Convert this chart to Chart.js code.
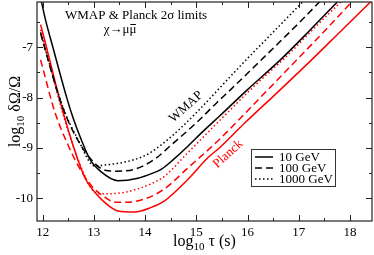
<!DOCTYPE html>
<html>
<head>
<meta charset="utf-8">
<script src="https://cdn.jsdelivr.net/npm/chart.js@4.4.1/dist/chart.umd.min.js"></script>
<style>
  html, body { margin: 0; padding: 0; background: #fff; }
  #chart { display: block; }
</style>
</head>
<body>
<canvas id="chart" width="374" height="255"></canvas>
<script>
'use strict';

/* Data: log10 tau (s) vs log10 dOmega/Omega */

var wmap10Tau = [11.96, 12.06, 12.2, 12.47, 12.6, 12.76, 12.92, 13.15, 13.47, 13.86, 14.15, 14.32, 14.55, 14.81, 15.1, 15.46, 16.0, 16.63, 17.2, 17.8];
var wmap10Val = [-6.02, -6.47, -7.0, -8.0, -8.42, -8.85, -9.22, -9.48, -9.65, -9.6, -9.5, -9.42, -9.23, -8.99, -8.7, -8.36, -7.84, -7.26, -6.68, -6.05];

var wmap100Tau = [11.96, 12.0, 12.39, 12.69, 13.02, 13.21, 13.41, 13.8, 14.19, 14.5, 15.0, 15.4, 15.65, 16.4, 17.0, 17.45];
var wmap100Val = [-6.72, -6.87, -8.19, -8.85, -9.31, -9.44, -9.46, -9.42, -9.22, -8.95, -8.5, -8.1, -7.86, -7.12, -6.52, -6.05];

var wmap1000Tau = [11.96, 12.0, 12.39, 12.7, 13.02, 13.2, 13.6, 14.0, 14.3, 14.7, 15.0, 15.5, 16.0, 16.5, 17.12];
var wmap1000Val = [-6.7, -6.85, -8.17, -8.85, -9.36, -9.34, -9.28, -9.15, -8.95, -8.6, -8.3, -7.76, -7.22, -6.7, -6.05];

var planck10Tau = [11.96, 12.0, 12.43, 12.82, 13.02, 13.21, 13.47, 13.8, 14.12, 14.38, 14.81, 15.23, 15.46, 15.94, 16.6, 17.24, 17.8, 18.45];
var planck10Val = [-6.55, -6.7, -8.4, -9.58, -9.88, -10.08, -10.25, -10.27, -10.18, -10.05, -9.65, -9.19, -8.99, -8.51, -7.88, -7.26, -6.7, -6.05];

var planck100Tau = [11.96, 12.0, 12.23, 12.5, 12.75, 12.99, 13.25, 13.41, 13.6, 14.0, 14.38, 14.81, 15.46, 16.2, 16.95, 17.5, 18.08];
var planck100Val = [-7.25, -7.4, -8.26, -8.95, -9.45, -9.79, -10.0, -10.08, -10.08, -10.01, -9.81, -9.42, -8.82, -8.05, -7.26, -6.68, -6.05];

var planck1000Tau = [11.96, 12.0, 12.42, 12.8, 13.02, 13.2, 13.6, 14.12, 14.38, 14.81, 15.46, 16.1, 16.8, 17.3, 17.84];
var planck1000Val = [-6.65, -6.8, -8.4, -9.5, -9.88, -9.91, -9.88, -9.71, -9.56, -9.12, -8.45, -7.8, -7.14, -6.62, -6.08];

var massLabels = ['10 GeV', '100 GeV', '1000 GeV'];
var xTickValues = [12, 13, 14, 15, 16, 17, 18];
var yTickValues = [-10, -9, -8, -7];

var SERIF = '"Liberation Serif", "DejaVu Serif", serif';
var DASHES = [[], [7, 4], [1.5, 2.5]];

function toPoints(xs, ys) {
  return xs.map(function(x, i) { return { x: x, y: ys[i] }; });
}

function lineSet(label, xs, ys, color, style) {
  return {
    label: label,
    data: toPoints(xs, ys),
    borderColor: color,
    borderWidth: 1.5,
    borderDash: DASHES[style],
    borderCapStyle: 'butt',
    pointRadius: 0,
    cubicInterpolationMode: 'monotone',
    fill: false
  };
}

function noPadding(scale) {
  scale.paddingTop = 0;
  scale.paddingBottom = 0;
  scale.paddingLeft = 0;
  scale.paddingRight = 0;
}

/* frame + inward ticks on all four sides */
var frameTicks = {
  id: 'frameTicks',
  afterDraw: function(chart) {
    var ctx = chart.ctx, a = chart.chartArea;
    var xs = chart.scales.x, ys = chart.scales.y;
    ctx.save();
    ctx.strokeStyle = '#222';
    ctx.lineWidth = 1.2;
    ctx.strokeRect(a.left, a.top, a.right - a.left, a.bottom - a.top);
    ctx.lineWidth = 1;
    ctx.beginPath();
    var v, p, len;
    for (v = 12; v <= 18.001; v += 0.5) {
      p = Math.round(xs.getPixelForValue(v)) + 0.5;
      len = (v % 1 === 0) ? 6 : 3;
      ctx.moveTo(p, a.bottom); ctx.lineTo(p, a.bottom - len);
      ctx.moveTo(p, a.top); ctx.lineTo(p, a.top + len);
    }
    for (v = -10; v <= -6.4; v += 0.5) {
      p = Math.round(ys.getPixelForValue(v)) + 0.5;
      len = (v % 1 === 0) ? 6 : 3;
      ctx.moveTo(a.left, p); ctx.lineTo(a.left + len, p);
      ctx.moveTo(a.right, p); ctx.lineTo(a.right - len, p);
    }
    ctx.stroke();
    ctx.restore();
  }
};

function drawLogTitle(ctx, x, y, rest) {
  var big = '16px ' + SERIF, small = '11px ' + SERIF;
  ctx.font = big;
  var w1 = ctx.measureText('log').width;
  var w3 = ctx.measureText(rest).width;
  ctx.font = small;
  var w2 = ctx.measureText('10').width;
  var start = x - (w1 + w2 + w3) / 2;
  ctx.textAlign = 'left';
  ctx.textBaseline = 'alphabetic';
  ctx.font = big;
  ctx.fillText('log', start, y);
  ctx.font = small;
  ctx.fillText('10', start + w1, y + 4);
  ctx.font = big;
  ctx.fillText(rest, start + w1 + w2, y);
}

/* texts, legend box and axis titles */
var annotations = {
  id: 'annotations',
  afterDraw: function(chart) {
    var ctx = chart.ctx, a = chart.chartArea;
    ctx.save();
    ctx.fillStyle = '#000';

    // header
    ctx.font = '13px ' + SERIF;
    ctx.textAlign = 'left';
    ctx.textBaseline = 'alphabetic';
    ctx.fillText('WMAP & Planck 2\u03c3 limits', 65, 19);
    var chan = '\u03c7\u2192\u03bc\u03bc';
    var cw = ctx.measureText(chan).width;
    var mw = ctx.measureText('\u03bc').width;
    var cx = 120 - cw / 2;
    ctx.fillText(chan, cx, 33);
    ctx.strokeStyle = '#000';
    ctx.lineWidth = 1;
    ctx.beginPath();
    ctx.moveTo(cx + cw - mw + 1, 24.5);
    ctx.lineTo(cx + cw - 0.5, 24.5);
    ctx.stroke();

    // curve labels
    ctx.textAlign = 'center';
    ctx.textBaseline = 'middle';
    ctx.save();
    ctx.translate(186, 107);
    ctx.rotate(-42 * Math.PI / 180);
    ctx.fillText('WMAP', 0, 0);
    ctx.restore();
    ctx.save();
    ctx.fillStyle = '#ff0000';
    ctx.translate(228, 154);
    ctx.rotate(-42 * Math.PI / 180);
    ctx.fillText('Planck', 0, 0);
    ctx.restore();

    // legend
    ctx.strokeStyle = '#333';
    ctx.lineWidth = 1;
    ctx.setLineDash([]);
    ctx.strokeRect(251.5, 149.5, 84, 37);
    var rows = [157, 168, 179];
    ctx.textAlign = 'left';
    massLabels.forEach(function(lbl, i) {
      ctx.save();
      ctx.strokeStyle = '#000';
      ctx.lineWidth = 1.5;
      ctx.setLineDash(DASHES[i]);
      ctx.beginPath();
      ctx.moveTo(255, rows[i]);
      ctx.lineTo(273, rows[i]);
      ctx.stroke();
      ctx.restore();
      ctx.fillText(lbl, 279, rows[i] + 1);
    });

    // axis titles
    drawLogTitle(ctx, (a.left + a.right) / 2, 246, ' \u03c4 (s)');
    ctx.save();
    ctx.translate(20, (a.top + a.bottom) / 2);
    ctx.rotate(-Math.PI / 2);
    drawLogTitle(ctx, 0, 0, ' \u03b4\u03a9/\u03a9');
    ctx.restore();

    ctx.restore();
  }
};

Chart.defaults.font.family = SERIF;
Chart.defaults.font.size = 13;
Chart.defaults.color = '#000';

var ctx = document.getElementById('chart').getContext('2d');
var myChart = new Chart(ctx, {
  type: 'line',
  data: {
    datasets: [
      lineSet('WMAP 10 GeV', wmap10Tau, wmap10Val, '#000000', 0),
      lineSet('WMAP 100 GeV', wmap100Tau, wmap100Val, '#000000', 1),
      lineSet('WMAP 1000 GeV', wmap1000Tau, wmap1000Val, '#000000', 2),
      lineSet('Planck 10 GeV', planck10Tau, planck10Val, '#ff0000', 0),
      lineSet('Planck 100 GeV', planck100Tau, planck100Val, '#ff0000', 1),
      lineSet('Planck 1000 GeV', planck1000Tau, planck1000Val, '#ff0000', 2)
    ]
  },
  options: {
    responsive: false,
    animation: false,
    devicePixelRatio: 1,
    layout: { padding: { top: 2, right: 2, left: 0, bottom: 0 } },
    plugins: { legend: { display: false }, tooltip: { enabled: false } },
    scales: {
      x: {
        type: 'linear',
        min: 11.89,
        max: 18.43,
        grid: { display: false, drawTicks: false },
        border: { display: false },
        ticks: { padding: 4, maxRotation: 0 },
        afterBuildTicks: function(scale) {
          scale.ticks = xTickValues.map(function(v) { return { value: v }; });
        },
        afterFit: function(scale) { scale.height = 34; noPadding(scale); }
      },
      y: {
        type: 'linear',
        min: -10.45,
        max: -6.1,
        grid: { display: false, drawTicks: false },
        border: { display: false },
        ticks: { padding: 4 },
        afterBuildTicks: function(scale) {
          scale.ticks = yTickValues.map(function(v) { return { value: v }; });
        },
        afterFit: function(scale) { scale.width = 37; noPadding(scale); }
      }
    }
  },
  plugins: [frameTicks, annotations]
});
</script>
</body>
</html>
